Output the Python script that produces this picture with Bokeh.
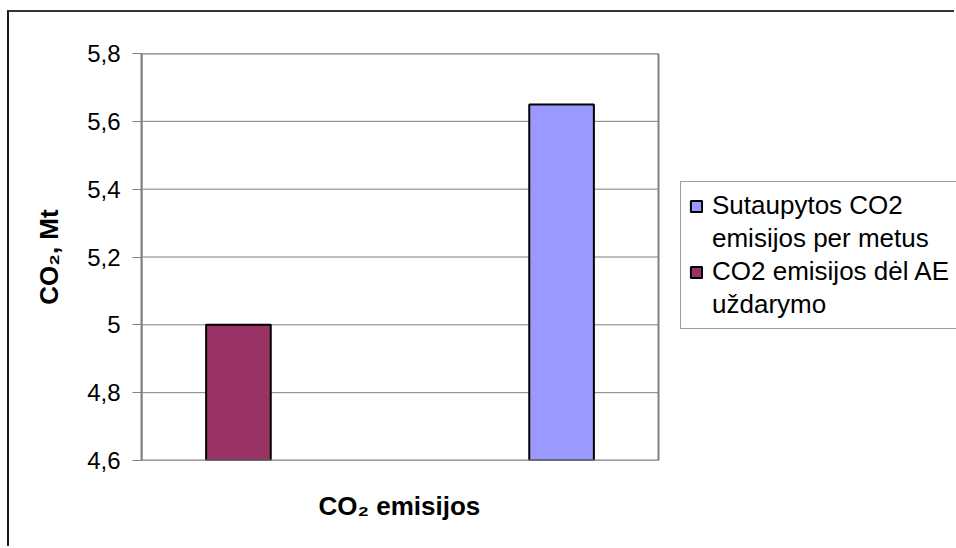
from bokeh.plotting import figure
from bokeh.models import (ColumnDataSource, Range1d, Legend, LegendItem, Title,
                          CustomJSTickFormatter, FixedTicker)
from bokeh.embed import file_html
from bokeh.resources import INLINE

# --- data -------------------------------------------------------------
categories = ["CO₂ emisijos"]
series_labels = [["Sutaupytos CO2", "emisijos per metus"],
                 ["CO2 emisijos dėl AE", "uždarymo"]]
saved_per_year = [5.65]      # Sutaupytos CO2 emisijos per metus
closure_emissions = [5.0]    # CO2 emisijos dėl AE uždarymo
y_ticks = [4.6, 4.8, 5.0, 5.2, 5.4, 5.6, 5.8]
y_title = "CO₂, Mt"
x_title = "CO₂ emisijos"

y_min, y_max = y_ticks[0], y_ticks[-1]
FONT = "Liberation Sans"

# The plot area spans x = 0..1; the frame runs on to the right edge so the
# legend box can sit beside the plot area.
AREA_LEFT, AREA_RIGHT = 0.0, 1.0
X_END = 1.5764
BAR_WIDTH = 0.125
SERIES_OFFSET = 0.3125

p = figure(width=947, height=536,
           x_range=Range1d(AREA_LEFT, X_END), y_range=Range1d(y_min, y_max),
           output_backend="svg", toolbar_location=None,
           min_border_left=132, min_border_right=0, min_border_top=41,
           min_border_bottom=87)

# chart-area frame: only its left and top edges fall inside the window
p.margin = (10, 0, 0, 7)
p.styles = {"border-left": "2px solid #1a1a1a", "border-top": "2px solid #333333"}

p.background_fill_color = "white"
p.border_fill_color = "white"
p.outline_line_color = None
p.xgrid.grid_line_color = None
p.ygrid.grid_line_color = None

n = len(categories)
centers = [(i + 0.5) / n * (AREA_RIGHT - AREA_LEFT) + AREA_LEFT for i in range(n)]

# horizontal gridlines across the plot area
p.segment(x0=[AREA_LEFT] * len(y_ticks), x1=[AREA_RIGHT] * len(y_ticks),
          y0=y_ticks, y1=y_ticks, line_color="#808080", line_width=1)

src_red = ColumnDataSource(dict(x=[c - SERIES_OFFSET for c in centers],
                                top=closure_emissions, bottom=[y_min] * n))
src_blue = ColumnDataSource(dict(x=[c + SERIES_OFFSET for c in centers],
                                 top=saved_per_year, bottom=[y_min] * n))

r_red = p.vbar(x="x", top="top", bottom="bottom", width=BAR_WIDTH, source=src_red,
               fill_color="#993366", line_color="black", line_width=2)
r_blue = p.vbar(x="x", top="top", bottom="bottom", width=BAR_WIDTH, source=src_blue,
                fill_color="#9999FF", line_color="black", line_width=2)

# plot-area border
p.quad(left=[AREA_LEFT], right=[AREA_RIGHT], bottom=[y_min], top=[y_max],
       fill_color=None, line_color="#808080", line_width=2)

# y axis
p.yaxis.ticker = FixedTicker(ticks=y_ticks)
p.yaxis.formatter = CustomJSTickFormatter(
    code="return tick.toFixed(1).replace('.', ',').replace(',0', '');")
p.yaxis.major_label_text_font = FONT
p.yaxis.major_label_text_font_size = "24px"
p.yaxis.major_label_text_color = "black"
p.yaxis.major_label_standoff = 12
p.yaxis.major_tick_out = 9
p.yaxis.major_tick_in = 0
p.yaxis.minor_tick_out = 0
p.yaxis.minor_tick_in = 0
p.yaxis.axis_line_color = "#808080"
p.yaxis.axis_line_width = 2
p.yaxis.major_tick_line_color = "#808080"
p.yaxis.axis_label = y_title
p.yaxis.axis_label_text_font = FONT
p.yaxis.axis_label_text_font_size = "26px"
p.yaxis.axis_label_text_font_style = "bold"
p.yaxis.axis_label_text_color = "black"
p.yaxis.axis_label_standoff = 20

# x axis: no ticks, only its title under the middle of the plot area
p.xaxis.visible = False
X_TITLE_INDENT = 177   # px from the frame's left edge to the start of the title
p.add_layout(Title(text=x_title, align="left", offset=X_TITLE_INDENT,
                   text_font=FONT, text_font_size="26px", text_font_style="bold",
                   text_color="black", standoff=56), "below")

# legend: first line of each label carries the swatch
blank = p.vbar(x=[], top=[], width=0, fill_alpha=0, line_alpha=0)
items = []
for renderer, lines in zip([r_blue, r_red], series_labels):
    items.append(LegendItem(label=lines[0], renderers=[renderer]))
    for extra in lines[1:]:
        items.append(LegendItem(label=extra, renderers=[blank]))

legend = Legend(items=items, location=(539, 131))
legend.margin = 0
legend.label_text_font = FONT
legend.label_text_font_size = "26px"
legend.label_text_line_height = 1.2
legend.label_text_color = "black"
legend.label_width = 330
legend.label_height = 31
legend.glyph_width = 14
legend.glyph_height = 14
legend.label_standoff = 9
legend.padding = 8
legend.spacing = 2
legend.border_line_color = "#404040"
legend.border_line_width = 1
legend.background_fill_alpha = 1
p.add_layout(legend, "center")

open("out.html", "w").write(file_html(p, INLINE))
